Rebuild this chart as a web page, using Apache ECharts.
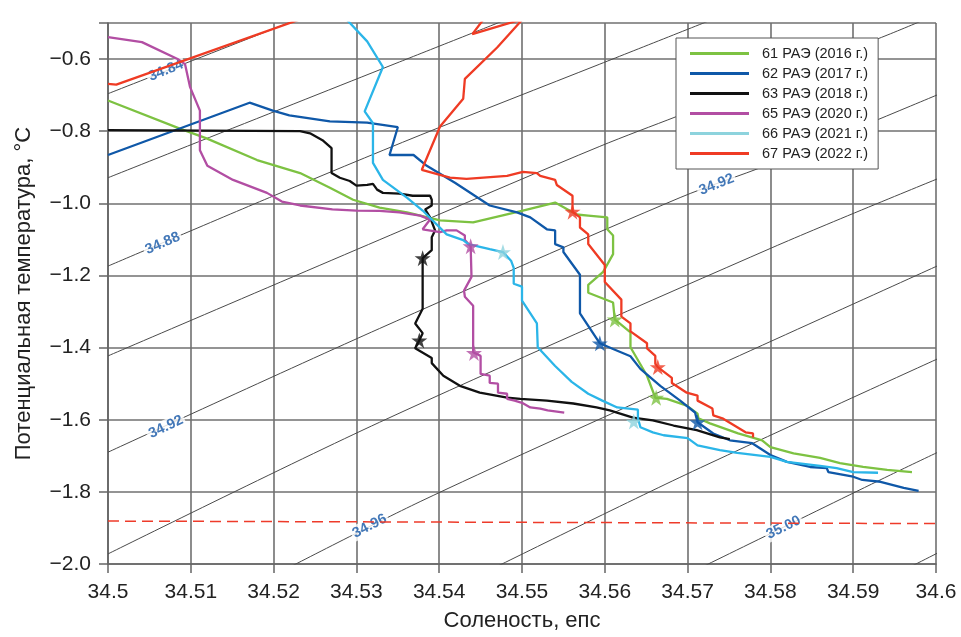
<!DOCTYPE html>
<html><head><meta charset="utf-8">
<script src="https://cdn.jsdelivr.net/npm/echarts/dist/echarts.min.js"></script>
<style>html,body{margin:0;padding:0;background:#fff;overflow:hidden}#c{width:961px;height:637px}</style>
</head><body><div id="c"></div>
<script>
// ---------- DATA ----------
const xTicks = {min: 34.5, max: 34.6, step: 0.01};
const yTicks = {min: -2.0, max: -0.5, step: 0.2};
const seriesNames = ['61 РАЭ (2016 г.)','62 РАЭ (2017 г.)','63 РАЭ (2018 г.)','65 РАЭ (2020 г.)','66 РАЭ (2021 г.)','67 РАЭ (2022 г.)'];

const s61 = [[34.5000,-0.715],[34.5086,-0.792],[34.5119,-0.820],[34.5180,-0.880],[34.5232,-0.916],[34.5268,-0.957],[34.5296,-0.990],[34.5328,-1.012],[34.5361,-1.025],[34.5401,-1.047],[34.5441,-1.053],[34.5501,-1.020],[34.5540,-0.998],[34.5566,-1.031],[34.5580,-1.034],[34.5603,-1.039],[34.5603,-1.072],[34.5610,-1.089],[34.5610,-1.141],[34.5598,-1.190],[34.5580,-1.226],[34.5580,-1.248],[34.5610,-1.275],[34.5612,-1.322],[34.5631,-1.358],[34.5631,-1.399],[34.5651,-1.478],[34.5661,-1.539],[34.5675,-1.542],[34.5699,-1.561],[34.5712,-1.583],[34.5713,-1.596],[34.5727,-1.610],[34.5761,-1.638],[34.5790,-1.657],[34.5800,-1.676],[34.5828,-1.693],[34.5860,-1.706],[34.5884,-1.720],[34.5912,-1.731],[34.5941,-1.739],[34.5971,-1.745]];

const s62 = [[34.5000,-0.866],[34.5171,-0.721],[34.5199,-0.743],[34.5219,-0.756],[34.5268,-0.773],[34.5313,-0.776],[34.5350,-0.789],[34.5340,-0.866],[34.5369,-0.866],[34.5385,-0.896],[34.5419,-0.943],[34.5461,-1.006],[34.5494,-1.025],[34.5510,-1.039],[34.5530,-1.072],[34.5540,-1.075],[34.5540,-1.113],[34.5550,-1.122],[34.5550,-1.135],[34.5570,-1.198],[34.5570,-1.305],[34.5594,-1.388],[34.5610,-1.404],[34.5631,-1.424],[34.5643,-1.459],[34.5667,-1.506],[34.5691,-1.547],[34.5709,-1.580],[34.5712,-1.607],[34.5731,-1.638],[34.5751,-1.657],[34.5778,-1.665],[34.5800,-1.698],[34.5820,-1.717],[34.5848,-1.731],[34.5868,-1.734],[34.5870,-1.745],[34.5900,-1.758],[34.5911,-1.767],[34.5933,-1.772],[34.5961,-1.789],[34.5979,-1.797]];

const s63 = [[34.5000,-0.797],[34.5232,-0.800],[34.5244,-0.806],[34.5259,-0.825],[34.5270,-0.847],[34.5270,-0.916],[34.5280,-0.929],[34.5292,-0.938],[34.5300,-0.951],[34.5313,-0.949],[34.5320,-0.946],[34.5325,-0.962],[34.5332,-0.971],[34.5352,-0.973],[34.5368,-0.979],[34.5389,-0.979],[34.5391,-0.990],[34.5391,-1.006],[34.5383,-1.017],[34.5389,-1.039],[34.5395,-1.075],[34.5391,-1.094],[34.5391,-1.130],[34.5380,-1.152],[34.5380,-1.292],[34.5371,-1.333],[34.5380,-1.360],[34.5376,-1.380],[34.5371,-1.402],[34.5391,-1.429],[34.5391,-1.443],[34.5405,-1.478],[34.5425,-1.506],[34.5449,-1.525],[34.5482,-1.539],[34.5498,-1.542],[34.5530,-1.547],[34.5562,-1.555],[34.5590,-1.566],[34.5606,-1.574],[34.5634,-1.594],[34.5658,-1.602],[34.5683,-1.616],[34.5711,-1.629],[34.5739,-1.649],[34.5751,-1.654]];

const s65 = [[34.5000,-0.539],[34.5041,-0.553],[34.5084,-0.600],[34.5093,-0.614],[34.5099,-0.677],[34.5111,-0.743],[34.5111,-0.853],[34.5120,-0.896],[34.5151,-0.935],[34.5192,-0.971],[34.5210,-0.995],[34.5232,-1.006],[34.5271,-1.017],[34.5300,-1.020],[34.5328,-1.021],[34.5352,-1.025],[34.5377,-1.034],[34.5389,-1.045],[34.5380,-1.072],[34.5401,-1.080],[34.5409,-1.075],[34.5421,-1.075],[34.5431,-1.089],[34.5431,-1.102],[34.5438,-1.119],[34.5439,-1.204],[34.5430,-1.242],[34.5431,-1.259],[34.5441,-1.284],[34.5441,-1.413],[34.5450,-1.423],[34.5450,-1.473],[34.5461,-1.478],[34.5461,-1.498],[34.5471,-1.500],[34.5471,-1.525],[34.5482,-1.528],[34.5482,-1.542],[34.5491,-1.547],[34.5500,-1.553],[34.5510,-1.566],[34.5522,-1.569],[34.5531,-1.574],[34.5551,-1.580]];

const s66 = [[34.5284,-0.480],[34.5313,-0.551],[34.5332,-0.622],[34.5310,-0.745],[34.5320,-0.778],[34.5320,-0.888],[34.5332,-0.935],[34.5361,-0.984],[34.5380,-1.020],[34.5409,-1.086],[34.5429,-1.102],[34.5435,-1.113],[34.5461,-1.127],[34.5477,-1.135],[34.5487,-1.160],[34.5490,-1.179],[34.5490,-1.223],[34.5500,-1.231],[34.5500,-1.270],[34.5518,-1.333],[34.5519,-1.399],[34.5540,-1.451],[34.5560,-1.495],[34.5580,-1.528],[34.5597,-1.547],[34.5615,-1.566],[34.5640,-1.572],[34.5640,-1.596],[34.5643,-1.621],[34.5658,-1.635],[34.5671,-1.643],[34.5700,-1.651],[34.5712,-1.671],[34.5739,-1.684],[34.5760,-1.692],[34.5800,-1.703],[34.5820,-1.717],[34.5860,-1.728],[34.5880,-1.734],[34.5900,-1.745],[34.5930,-1.747]];

const s67 = [[34.5000,-0.669],[34.5010,-0.671],[34.5293,-0.440],[34.5470,-0.440],[34.5440,-0.531],[34.5501,-0.489],[34.5470,-0.568],[34.5431,-0.655],[34.5429,-0.710],[34.5401,-0.787],[34.5379,-0.907],[34.5413,-0.929],[34.5433,-0.932],[34.5482,-0.924],[34.5501,-0.913],[34.5518,-0.916],[34.5522,-0.924],[34.5540,-0.935],[34.5542,-0.949],[34.5561,-0.979],[34.5561,-1.023],[34.5570,-1.039],[34.5570,-1.067],[34.5580,-1.086],[34.5580,-1.113],[34.5600,-1.171],[34.5600,-1.218],[34.5620,-1.267],[34.5620,-1.314],[34.5631,-1.333],[34.5631,-1.355],[34.5651,-1.388],[34.5651,-1.402],[34.5661,-1.423],[34.5661,-1.445],[34.5664,-1.454],[34.5681,-1.484],[34.5681,-1.498],[34.5699,-1.525],[34.5712,-1.533],[34.5712,-1.547],[34.5730,-1.569],[34.5731,-1.588],[34.5742,-1.596],[34.5760,-1.621],[34.5770,-1.635],[34.5779,-1.638],[34.5779,-1.649]];

// star markers (two per expedition)
const stars61 = [[34.5612,-1.322],[34.5662,-1.539]];
const stars62 = [[34.5594,-1.388],[34.5712,-1.607]];
const stars63 = [[34.5380,-1.152],[34.5376,-1.380]];
const stars65 = [[34.5438,-1.119],[34.5442,-1.415]];
const stars66 = [[34.5477,-1.135],[34.5635,-1.605]];
const stars67 = [[34.5561,-1.023],[34.5664,-1.454]];

// isopycnals
const iso3484 = [[34.5000,-0.696],[34.5250,-0.471]];
const iso3486 = [[34.5000,-0.929],[34.5352,-0.608],[34.5485,-0.487]];
const iso3488 = [[34.5000,-1.174],[34.5195,-0.984],[34.5377,-0.811],[34.5594,-0.614],[34.5739,-0.482]];
const iso3490 = [[34.5000,-1.423],[34.5377,-1.053],[34.5594,-0.842],[34.5687,-0.759],[34.5934,-0.540],[34.5987,-0.490]];
const iso3492 = [[34.5000,-1.690],[34.5328,-1.347],[34.5691,-0.984],[34.5796,-0.894],[34.6005,-0.696]];
const iso3494 = [[34.5000,-1.972],[34.5328,-1.607],[34.5803,-1.122],[34.6005,-0.929]];
const iso3496 = [[34.5204,-2.027],[34.5377,-1.827],[34.5667,-1.522],[34.6005,-1.170]];
const iso3498 = [[34.5452,-2.027],[34.5697,-1.753],[34.6005,-1.428]];
const iso3500 = [[34.5701,-2.027],[34.5945,-1.753],[34.6005,-1.687]];
const iso3502 = [[34.5950,-2.030],[34.6005,-1.966]];
const isoLabelText = ['34.84','34.88','34.92','34.92','34.96','35.00'];
const isoLabelPos = [[34.5070,-0.632],[34.5066,-1.111],[34.5070,-1.620],[34.5735,-0.948],[34.5316,-1.895],[34.5816,-1.899]];
// freezing line
const freezeLine = [[34.5,-1.881],[34.6,-1.888]];

// ---------- STYLE ----------
const lineColors = ['#7dc242','#0f58a8','#111111','#b24ea3','#2bb5e8','#ef3b24'];
const starColors = ['#7dc242','#0f58a8','#111111','#b24ea3','#8dd3dd','#ef3b24'];
const legendColors = ['#7dc242','#0f58a8','#111111','#b24ea3','#8dd3dd','#ef3b24'];
const isoLabelRotate = [22,23,25,22,27,26];
const FONT = '"Liberation Sans", Arial, Helvetica, sans-serif';
const starPath = 'path://M50,0 L61.8,35.4 L100,35.4 L69.1,57.3 L80.9,92.7 L50,70.8 L19.1,92.7 L30.9,57.3 L0,35.4 L38.2,35.4 Z';
const legendIcon = 'path://M0,0 L59,0 L59,3.2 L0,3.2 Z';

const lines = [s61,s62,s63,s65,s66,s67];
const stars = [stars61,stars62,stars63,stars65,stars66,stars67];
const isos = [iso3484,iso3486,iso3488,iso3490,iso3492,iso3494,iso3496,iso3498,iso3500,iso3502];

const series = [];
isos.forEach((d,i)=>series.push({type:'line',name:'iso'+i,data:d,symbol:'none',smooth:0.3,z:2,silent:true,
  lineStyle:{color:'#4a4a4a',width:1}}));
series.push({type:'scatter',name:'isoLabels',z:3,silent:true,symbolSize:0.1,itemStyle:{color:'rgba(0,0,0,0)'},
  data:isoLabelText.map((t,i)=>({name:t,value:isoLabelPos[i],label:{rotate:isoLabelRotate[i]}})),
  label:{show:true,position:'inside',formatter:p=>p.name,color:'#1456a6',fontWeight:'bold',fontSize:14.5,fontFamily:FONT,backgroundColor:'#fff',padding:[0,2]}});
series.push({type:'line',name:'freeze',data:freezeLine,symbol:'none',z:4,silent:true,
  lineStyle:{color:'#ee3b2a',width:1.5,type:[11,6]}});
lines.forEach((d,i)=>series.push({type:'line',name:seriesNames[i],data:d,symbol:'none',z:5,
  lineStyle:{color:lineColors[i],width:2.3},itemStyle:{color:lineColors[i]}}));
stars.forEach((d,i)=>series.push({type:'scatter',name:'st'+i,data:d,symbol:starPath,symbolSize:16,z:6,
  itemStyle:{color:starColors[i]}}));

const chart = echarts.init(document.getElementById('c'),null,{renderer:'canvas'});
chart.setOption({
  animation:false,
  backgroundColor:'#fff',
  grid:{left:108,right:25,top:23,bottom:67},
  xAxis:{type:'value',min:xTicks.min,max:xTicks.max,interval:xTicks.step,
    name:'Соленость, епс',nameLocation:'middle',nameGap:46,
    nameTextStyle:{fontSize:22,color:'#222',fontFamily:FONT},
    axisLine:{show:true,onZero:false,lineStyle:{color:'#666',width:1.7}},
    axisTick:{show:true,length:9,lineStyle:{color:'#666',width:1.5}},
    axisLabel:{fontSize:21,color:'#222',margin:18,fontFamily:FONT},
    splitLine:{show:true,lineStyle:{color:'#707070',width:1.6}}},
  yAxis:{type:'value',min:yTicks.min,max:yTicks.max,interval:yTicks.step,
    name:'Потенциальная температура, °C',nameLocation:'middle',nameGap:73,
    nameTextStyle:{fontSize:22,color:'#222',fontFamily:FONT},
    axisLine:{show:true,onZero:false,lineStyle:{color:'#666',width:1.7}},
    axisTick:{show:true,length:9,lineStyle:{color:'#666',width:1.5}},
    axisLabel:{fontSize:21,color:'#222',margin:17,fontFamily:FONT,
      formatter:v=> (Math.abs(v+0.5)<1e-6) ? '' : (v<0?'\u2212':'')+Math.abs(v).toFixed(1)},
    splitLine:{show:true,lineStyle:{color:'#707070',width:1.6}}},
  legend:{orient:'vertical',left:676,top:38,padding:[8,10,8,14],itemWidth:59,itemHeight:14,itemGap:5,
    backgroundColor:'#fff',borderColor:'#555',borderWidth:1,
    textStyle:{fontSize:14.5,color:'#222',fontFamily:FONT,padding:[0,0,0,8]},
    data:seriesNames.map((n,i)=>({name:n,icon:legendIcon,itemStyle:{color:legendColors[i]}}))},
  series:series
});
</script></body></html>
